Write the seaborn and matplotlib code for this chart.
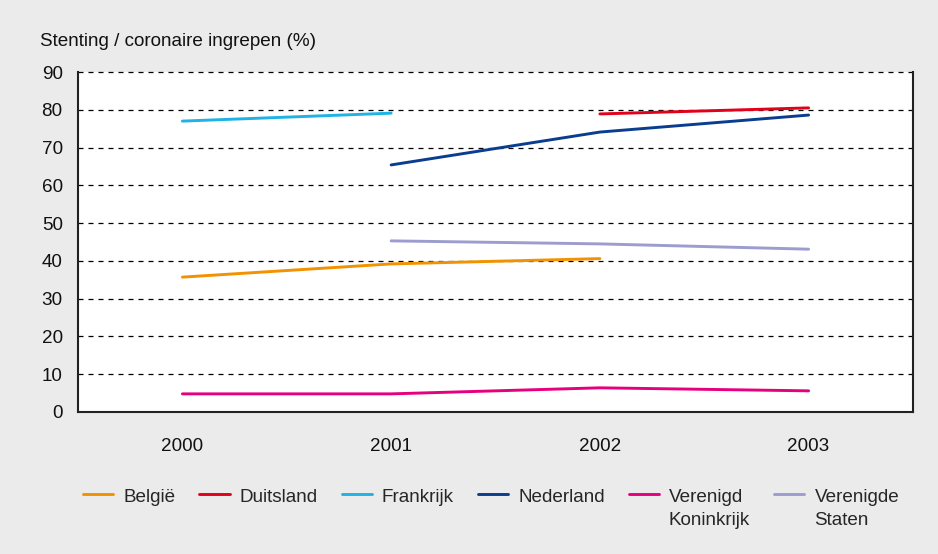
import numpy as np
import pandas as pd
import matplotlib
matplotlib.use("Agg")
import matplotlib.pyplot as plt
from matplotlib.offsetbox import TextArea
import seaborn as sns

years = ["2000", "2001", "2002", "2003"]
countries = ["België", "Duitsland", "Frankrijk", "Nederland",
             "Verenigd\nKoninkrijk", "Verenigde\nStaten"]
belgie = [35.7, 39.2, 40.6, np.nan]
duitsland = [np.nan, np.nan, 78.9, 80.5]
frankrijk = [77.0, 79.1, np.nan, np.nan]
nederland = [np.nan, 65.4, 74.1, 78.6]
verenigd_koninkrijk = [4.8, 4.8, 6.4, 5.6]
verenigde_staten = [np.nan, 45.3, 44.5, 43.1]
colors = ["#f39200", "#e2001a", "#1fb2e6", "#0a3d8f", "#e6007e", "#9c9ccf"]

series = [belgie, duitsland, frankrijk, nederland,
          verenigd_koninkrijk, verenigde_staten]
rows = []
for name, vals in zip(countries, series):
    for i, v in enumerate(vals):
        rows.append({"pos": i, "land": name, "waarde": v})
df = pd.DataFrame(rows).dropna()

FS = 13.6
LINESPACING = 1.45
sns.set_style("white")
plt.rcParams["font.family"] = ["Liberation Sans", "DejaVu Sans"]
plt.rcParams["font.size"] = FS

fig = plt.figure(figsize=(9.38, 5.54), dpi=100, facecolor="#ebebeb")
ax = fig.add_axes([78 / 938, 1 - 412 / 554, (913 - 78) / 938, (412 - 72) / 554])
ax.set_facecolor("white")

sns.lineplot(data=df, x="pos", y="waarde", hue="land", hue_order=countries,
             palette=colors, linewidth=2.1, ax=ax, legend=True)

ax.set_xlim(-0.5, 3.5)
ax.set_ylim(0, 90)
ax.set_xticks(range(len(years)))
ax.set_xticklabels(years)
ax.set_yticks(range(0, 91, 10))
ax.set_xlabel("")
ax.set_ylabel("")
ax.tick_params(axis="both", direction="out", length=7, width=1.2,
               color="#333333", labelsize=FS, labelcolor="#111111")
ax.tick_params(axis="x", pad=12)
ax.tick_params(axis="y", pad=4)
for y in range(10, 90, 10):
    ax.axhline(y, color="black", linestyle=(0, (4, 4)), linewidth=0.9, zorder=0)
for side in ["left", "bottom", "right"]:
    ax.spines[side].set_color("#222222")
    ax.spines[side].set_linewidth(1.5)
ax.spines["top"].set_visible(False)
ax.axhline(90, color="black", linestyle=(0, (4, 4)), linewidth=0.9,
           clip_on=False, zorder=0)

fig.text(40 / 938, 1 - 42 / 554, "Stenting / coronaire ingrepen (%)",
         fontsize=FS, va="center", ha="left", color="#111111")

handles, labels = ax.get_legend_handles_labels()
ax.get_legend().remove()
# every label gets two lines so all rows line up on the first line
labels = [lab if "\n" in lab else lab + "\n" for lab in labels]
leg = fig.legend(handles, labels, loc="upper left",
                 bbox_to_anchor=(66 / 938, 1 - 472 / 554),
                 ncol=6, frameon=False, fontsize=FS, handlelength=1.6,
                 handletextpad=0.53, columnspacing=1.27, labelspacing=0.2)
for ta in leg.findobj(TextArea):
    ta._multilinebaseline = False
for t in leg.get_texts():
    t.set_linespacing(LINESPACING)
# lift the handles from the second line up to the first line
step_pt = 18.3 * LINESPACING * 72 / 100 - 2
for h in leg.legend_handles:
    h.set_ydata(np.asarray(h.get_ydata()) + step_pt)

fig.savefig("out.png", dpi=100, facecolor=fig.get_facecolor())
